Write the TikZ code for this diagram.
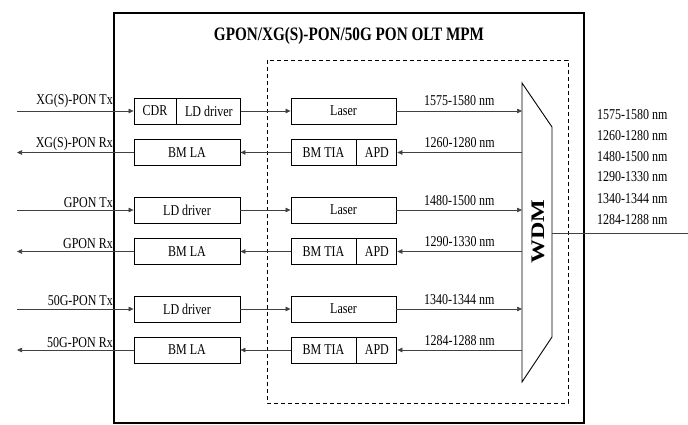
\documentclass[tikz,border=0pt]{standalone}
\usepackage{fontspec}
\setmainfont{Liberation Serif}[FakeStretch=0.8]
\newfontfamily\wdmfont{Liberation Serif}[FakeStretch=1.25]
\usetikzlibrary{
    arrows.meta,
    positioning
}

\tikzset{
    blk/.style={draw, line width=0.9pt, minimum height=26pt, inner sep=0pt,
        font=\fontsize{15}{18}\selectfont},
    wide/.style={blk, minimum width=106pt},
    lbl/.style={inner sep=0pt, font=\fontsize{15}{18}\selectfont},
    sig/.style={line width=0.6pt, draw=black!75},
    tip/.style={-{Triangle[length=5pt,width=4.5pt]}}
}

\begin{document}
\begin{tikzpicture}[x=1pt,y=-1pt]

\useasboundingbox (0,0) rectangle (688,425);

% Frames
\draw[line width=1.1pt] (114,13) rectangle (584,423);
\draw[line width=0.8pt, dash pattern=on 4pt off 3pt] (267,60) rectangle (568,403);
\node[font=\bfseries\fontsize{19}{22}\selectfont] (title) at (349,36) {GPON/XG(S)-PON/50G PON OLT MPM};

% Electrical blocks
\node[blk, minimum width=42pt] (cdr) at (155,111) {CDR};
\node[blk, minimum width=64pt, right=0pt of cdr] (drvA) {LD driver};
\node[wide] (laA) at (187,152.5) {BM LA};
\node[wide] (drvB) at (187,210) {LD driver};
\node[wide] (laB) at (187,251.5) {BM LA};
\node[wide] (drvC) at (187,309) {LD driver};
\node[wide] (laC) at (187,350) {BM LA};

% Optical blocks
\node[blk, minimum width=105pt] (lsA) at (343.5,111) {Laser};
\node[blk, minimum width=65pt] (tiaA) at (323.5,152.5) {BM TIA};
\node[blk, minimum width=40pt, right=0pt of tiaA] (apdA) {APD};
\node[blk, minimum width=105pt] (lsB) at (343.5,210) {Laser};
\node[blk, minimum width=65pt] (tiaB) at (323.5,251.5) {BM TIA};
\node[blk, minimum width=40pt, right=0pt of tiaB] (apdB) {APD};
\node[blk, minimum width=105pt] (lsC) at (343.5,309) {Laser};
\node[blk, minimum width=65pt] (tiaC) at (323.5,350) {BM TIA};
\node[blk, minimum width=40pt, right=0pt of tiaC] (apdC) {APD};

% WDM
\coordinate (w1) at (522,83);
\coordinate (w2) at (552,127);
\coordinate (w3) at (552,337);
\coordinate (w4) at (522,382);
\draw[line width=0.9pt] (w1) -- (w2) -- (w3) -- (w4) -- cycle;
\node[rotate=90, font=\wdmfont\bfseries\fontsize{19.2}{22}\selectfont] (wdm) at (538,232) {WDM};

% Host side ports
\coordinate (txA) at (17,111);
\coordinate (rxA) at (17,152.5);
\coordinate (txB) at (17,210);
\coordinate (rxB) at (17,251.5);
\coordinate (txC) at (17,309);
\coordinate (rxC) at (17,350);
\draw[sig,tip] (txA) -- (cdr);
\draw[sig,tip] (laA) -- (rxA);
\draw[sig,tip] (txB) -- (drvB);
\draw[sig,tip] (laB) -- (rxB);
\draw[sig,tip] (txC) -- (drvC);
\draw[sig,tip] (laC) -- (rxC);

\node[lbl, anchor=base east] (txAl) at (113,105) {XG(S)-PON Tx};
\node[lbl, anchor=base east] (rxAl) at (113,148) {XG(S)-PON Rx};
\node[lbl, anchor=base east] (txBl) at (113,207) {GPON Tx};
\node[lbl, anchor=base east] (rxBl) at (113,248) {GPON Rx};
\node[lbl, anchor=base east] (txCl) at (113,305) {50G-PON Tx};
\node[lbl, anchor=base east] (rxCl) at (113,347) {50G-PON Rx};

% Driver -> laser, TIA -> LA
\draw[sig,tip] (drvA) -- (lsA);
\draw[sig,tip] (tiaA) -- (laA);
\draw[sig,tip] (drvB) -- (lsB);
\draw[sig,tip] (tiaB) -- (laB);
\draw[sig,tip] (drvC) -- (lsC);
\draw[sig,tip] (tiaC) -- (laC);

% Optics <-> WDM
\coordinate (inA) at (522,111);
\coordinate (outA) at (522,152.5);
\coordinate (inB) at (522,210);
\coordinate (outB) at (522,251.5);
\coordinate (inC) at (522,309);
\coordinate (outC) at (522,350);
\draw[sig,tip] (lsA) -- (inA) node[lbl, midway, anchor=base, yshift=5pt] (nmA) {1575-1580 nm};
\draw[sig,tip] (outA) -- (apdA) node[lbl, midway, anchor=base, yshift=5pt] (nmB) {1260-1280 nm};
\draw[sig,tip] (lsB) -- (inB) node[lbl, midway, anchor=base, yshift=5pt] (nmC) {1480-1500 nm};
\draw[sig,tip] (outB) -- (apdB) node[lbl, midway, anchor=base, yshift=5pt] (nmD) {1290-1330 nm};
\draw[sig,tip] (lsC) -- (inC) node[lbl, midway, anchor=base, yshift=5pt] (nmE) {1340-1344 nm};
\draw[sig,tip] (outC) -- (apdC) node[lbl, midway, anchor=base, yshift=5pt] (nmF) {1284-1288 nm};

% Fibre side
\coordinate (wout) at (552,233);
\coordinate (fib) at (688,233);
\draw[sig] (wout) -- (fib);

\node[lbl, anchor=base west] (bA) at (597,120) {1575-1580 nm};
\node[lbl, anchor=base west] (bB) at (597,140.5) {1260-1280 nm};
\node[lbl, anchor=base west] (bC) at (597,161.5) {1480-1500 nm};
\node[lbl, anchor=base west] (bD) at (597,182) {1290-1330 nm};
\node[lbl, anchor=base west] (bE) at (597,203) {1340-1344 nm};
\node[lbl, anchor=base west] (bF) at (597,224) {1284-1288 nm};

\end{tikzpicture}
\end{document}
